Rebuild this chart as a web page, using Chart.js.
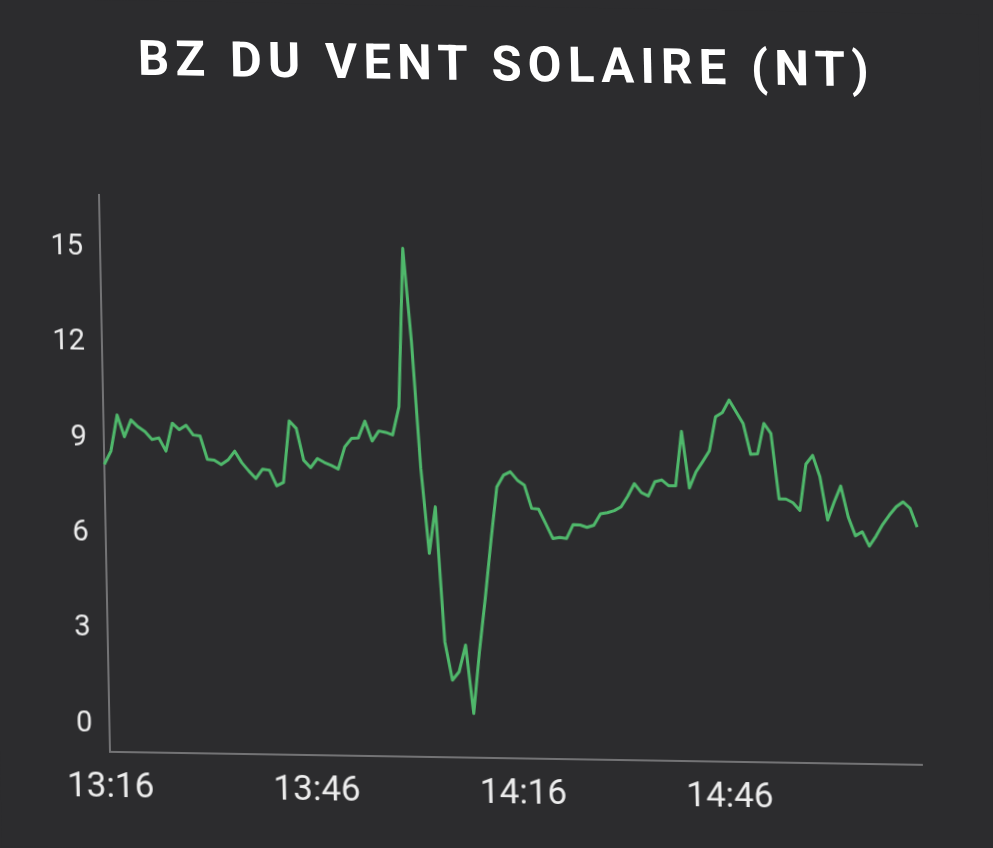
<!DOCTYPE html>
<html>
<head>
<meta charset="utf-8">
<script src="https://cdn.jsdelivr.net/npm/chart.js@4.4.1/dist/chart.umd.min.js"></script>
<style>
  html, body { margin: 0; padding: 0; background: #2c2c2e; overflow: hidden; }
  #stage {
    position: absolute; left: 0; top: 0; width: 993px; height: 848px;
    background: #2c2c2e;
    /* the source picture is a slightly skewed screenshot */
    transform: matrix(1, 0.016, 0.0197, 1, 0, 0);
    transform-origin: 110px 752px;
  }
  #title {
    position: absolute; left: 114px; top: 33px; width: 812px; margin: 0;
    text-align: center; color: #ffffff;
    font-family: Roboto, "Noto Sans", sans-serif; font-weight: 700;
    font-size: 49px; line-height: 49px; letter-spacing: 6.3px; white-space: nowrap;
  }
  canvas { position: absolute; left: 0; top: 0; }
</style>
</head>
<body>
<div id="stage">
  <h1 id="title">BZ DU VENT SOLAIRE (NT)</h1>
  <canvas id="myChart" width="993" height="848"></canvas>
</div>
<script>
// Bz values (nT), one reading per minute from 13:16
const bzValues = [
  8.18, 8.60, 9.74, 9.06, 9.59, 9.38, 9.23, 8.99, 9.04, 8.63,
  9.51, 9.31, 9.45, 9.15, 9.12, 8.39, 8.37, 8.23, 8.38, 8.66,
  8.30, 8.04, 7.81, 8.11, 8.08, 7.59, 7.70, 9.64, 9.41, 8.41,
  8.18, 8.47, 8.35, 8.26, 8.15, 8.85, 9.12, 9.14, 9.67, 9.05,
  9.37, 9.33, 9.25, 10.14, 15.13, 12.21, 8.22, 5.54, 7.01, 2.76,
  1.56, 1.83, 2.67, 0.52, 2.47, 4.15, 5.98, 7.67, 8.04, 8.15,
  7.89, 7.74, 7.01, 6.99, 6.54, 6.07, 6.11, 6.08, 6.52, 6.51,
  6.44, 6.51, 6.87, 6.91, 6.98, 7.10, 7.44, 7.84, 7.56, 7.46,
  7.91, 7.97, 7.79, 7.79, 9.51, 7.73, 8.24, 8.57, 8.91, 9.99,
  10.12, 10.52, 10.15, 9.78, 8.82, 8.84, 9.80, 9.49, 7.43, 7.43,
  7.32, 7.08, 8.54, 8.82, 8.15, 6.79, 7.36, 7.87, 6.90, 6.31,
  6.44, 5.99, 6.31, 6.68, 6.98, 7.24, 7.40, 7.21, 6.61
];

const startTime = '13:16';
const xTickLabels = ['13:16', '13:46', '14:16', '14:46'];
const yTickValues = [0, 3, 6, 9, 12, 15];

const textColor = '#ececec';
const axisColor = '#737375';
const lineColor = '#4fb86b';

// minute labels for the category axis
const [h0, m0] = startTime.split(':').map(Number);
const timeLabels = bzValues.map((v, i) => {
  const t = h0 * 60 + m0 + i;
  return Math.floor(t / 60) + ':' + String(t % 60).padStart(2, '0');
});

const ctx = document.getElementById('myChart').getContext('2d');

const myChart = new Chart(ctx, {
  type: 'line',
  data: {
    labels: timeLabels,
    datasets: [{
      label: 'Bz',
      data: bzValues,
      borderColor: lineColor,
      backgroundColor: 'rgba(0,0,0,0)',
      borderWidth: 3,
      pointRadius: 0,
      tension: 0,
      fill: false,
      borderJoinStyle: 'round'
    }]
  },
  options: {
    responsive: false,
    animation: false,
    layout: {
      padding: { top: 195, right: 71, left: 0, bottom: 0 }
    },
    plugins: {
      legend: { display: false },
      tooltip: { enabled: false },
      title: { display: false }
    },
    scales: {
      x: {
        type: 'category',
        offset: false,
        grid: { display: false, drawTicks: false },
        border: { display: true, color: axisColor, width: 2 },
        ticks: {
          autoSkip: false,
          maxRotation: 0,
          minRotation: 0,
          color: textColor,
          padding: 15,
          font: { family: 'Roboto', size: 35 },
          callback: function (value) {
            const lab = this.getLabelForValue(value);
            return xTickLabels.includes(lab) ? lab : '';
          }
        },
        afterFit(scale) { scale.height = 96; }
      },
      y: {
        min: -0.87,
        max: 16.66,
        grid: { display: false, drawTicks: false },
        border: { display: true, color: axisColor, width: 2 },
        ticks: {
          color: textColor,
          padding: 17,
          font: { family: 'Roboto', size: 29 }
        },
        afterBuildTicks(scale) {
          scale.ticks = yTickValues.map(v => ({ value: v }));
        },
        afterFit(scale) { scale.width = 110; }
      }
    }
  }
});
</script>
</body>
</html>
